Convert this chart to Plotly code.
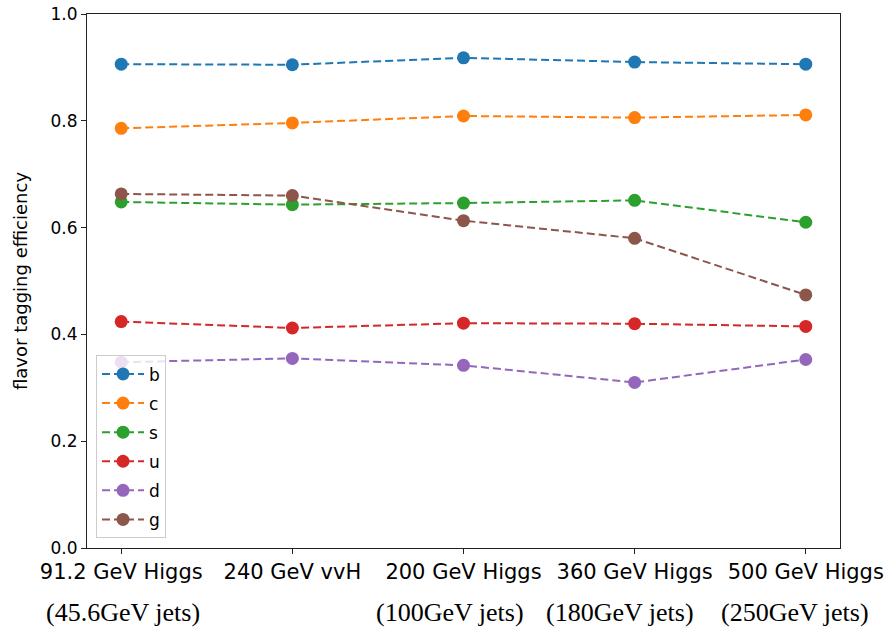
import plotly.graph_objects as go

categories = ["91.2 GeV Higgs", "240 GeV vvH", "200 GeV Higgs", "360 GeV Higgs", "500 GeV Higgs"]
sublabels = ["(45.6GeV jets)", "", "(100GeV jets)", "(180GeV jets)", "(250GeV jets)"]
sublabel_shift = [2, 0, -14, -15, -11]

flavors = ["b", "c", "s", "u", "d", "g"]
b_eff = [0.906, 0.905, 0.918, 0.910, 0.906]
c_eff = [0.786, 0.796, 0.809, 0.806, 0.811]
s_eff = [0.648, 0.643, 0.646, 0.651, 0.610]
u_eff = [0.424, 0.412, 0.421, 0.420, 0.415]
d_eff = [0.348, 0.355, 0.342, 0.310, 0.353]
g_eff = [0.663, 0.660, 0.613, 0.580, 0.474]
series = [b_eff, c_eff, s_eff, u_eff, d_eff, g_eff]
colors = ["#1f77b4", "#ff7f0e", "#2ca02c", "#d62728", "#9467bd", "#8c564b"]

fig = go.Figure()
for name, vals, col in zip(flavors, series, colors):
    fig.add_trace(go.Scatter(
        x=categories, y=vals, name=name, mode="lines+markers",
        line=dict(color=col, width=2, dash="8px,4px"),
        marker=dict(color=col, size=13),
        legendgroup=name,
    ))

for i, (lab, sh) in enumerate(zip(sublabels, sublabel_shift)):
    if lab:
        fig.add_annotation(
            x=categories[i], xref="x", y=-0.12, yref="paper",
            text=lab, showarrow=False, xshift=sh, xanchor="center", yanchor="middle",
            font=dict(family="Liberation Serif", size=26, color="#000"),
        )

fig.update_layout(
    width=886, height=631,
    margin=dict(l=87, r=46, t=14, b=83),
    paper_bgcolor="white", plot_bgcolor="white",
    font=dict(family="DejaVu Sans", color="#000"),
    showlegend=True,
    legend=dict(
        x=0.012, y=0.018, xanchor="left", yanchor="bottom",
        bgcolor="rgba(255,255,255,0.8)", bordercolor="#cccccc", borderwidth=1,
        font=dict(size=17, family="DejaVu Sans"),
        tracegroupgap=4, itemwidth=42,
    ),
)
fig.update_xaxes(
    type="category", range=[-0.2, 4.2], automargin=False,
    showline=True, linecolor="#222", linewidth=1, mirror=True,
    ticks="outside", ticklen=5, tickcolor="#222",
    showgrid=False, zeroline=False,
    tickfont=dict(size=21, family="DejaVu Sans"),
)
fig.update_yaxes(
    range=[0, 1], tickvals=[0, 0.2, 0.4, 0.6, 0.8, 1.0], tickformat=".1f", automargin=False,
    showline=True, linecolor="#222", linewidth=1, mirror=True,
    ticks="outside", ticklen=5, tickcolor="#222",
    showgrid=False, zeroline=False,
    tickfont=dict(size=17, family="DejaVu Sans"),
    title=dict(text="flavor tagging efficiency", font=dict(size=18, family="DejaVu Sans"), standoff=18),
)

fig.write_html("out.html", config={"displayModeBar": False},
               post_script="document.body.style.margin='0';")
